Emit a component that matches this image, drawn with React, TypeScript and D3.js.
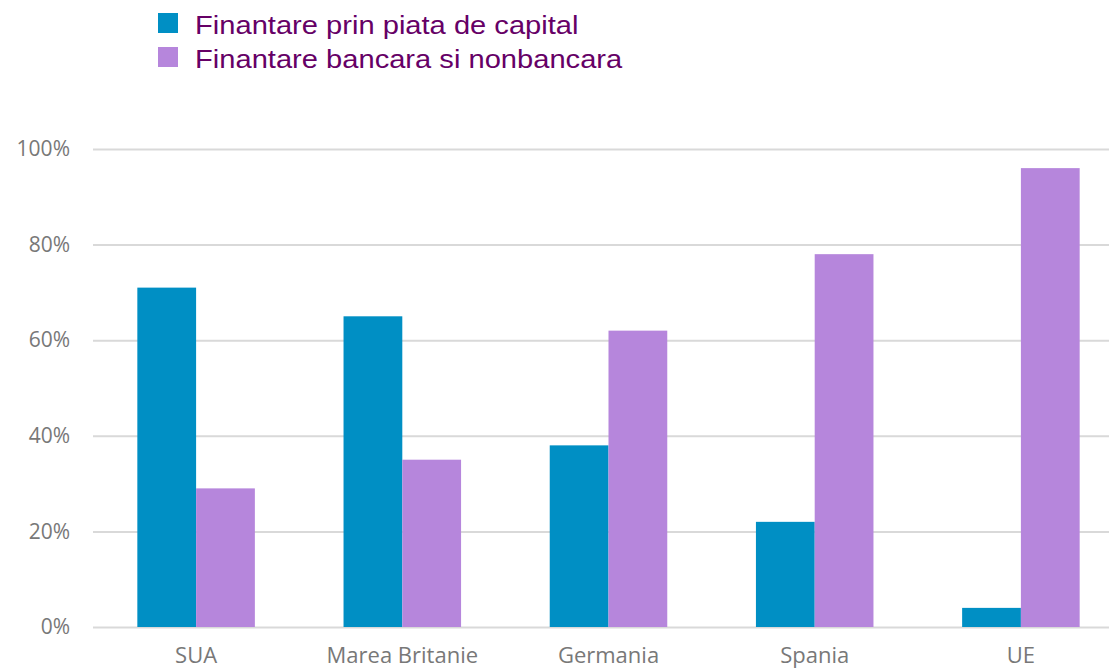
import React, { useRef, useEffect } from "react";
import { select, scaleBand, scaleLinear, axisLeft, axisBottom } from "d3";

const categories = ["SUA", "Marea Britanie", "Germania", "Spania", "UE"];
const seriesNames = [
  "Finantare prin piata de capital",
  "Finantare bancara si nonbancara",
];
const capital = [71, 65, 38, 22, 4];
const bancara = [29, 35, 62, 78, 96];
const yTicks = [0, 20, 40, 60, 80, 100];
const colors = ["#008fc4", "#b686dc"];

const width = 1109;
const height = 670;

const App: React.FC = () => {
  const svgRef = useRef<SVGSVGElement>(null);

  useEffect(() => {
    const svg = select(svgRef.current);
    svg.selectAll("*").remove();

    const plotLeft = 93;
    const plotRight = 1124;
    const plotTop = 149;
    const plotBottom = 627;

    const x = scaleBand<string>()
      .domain(categories)
      .range([plotLeft, plotRight])
      .paddingInner(0.43)
      .paddingOuter(0.215);
    const sub = scaleBand<string>()
      .domain(["0", "1"])
      .range([0, x.bandwidth()]);
    const y = scaleLinear().domain([0, 100]).range([plotBottom, plotTop]);

    // grid + y labels
    const yAxis = axisLeft(y)
      .tickValues(yTicks)
      .tickSize(-(width - plotLeft))
      .tickPadding(23)
      .tickFormat((d) => `${d}%`);
    const gy = svg
      .append("g")
      .attr("transform", `translate(${plotLeft},0)`)
      .call(yAxis);
    gy.select(".domain").remove();
    gy.selectAll("line").attr("stroke", "#d9d9d9").attr("stroke-width", 2);
    gy.selectAll("text")
      .attr("fill", "#787878")
      .style("font-family", "'Open Sans', sans-serif")
      .style("font-size", "21px");

    // bars
    const data = [capital, bancara];
    data.forEach((vals, si) => {
      svg
        .append("g")
        .selectAll("rect")
        .data(vals)
        .join("rect")
        .attr("x", (_, i) => x(categories[i])! + sub(String(si))!)
        .attr("y", (d) => y(d))
        .attr("width", sub.bandwidth())
        .attr("height", (d) => plotBottom - y(d))
        .attr("fill", colors[si]);
    });

    // x labels
    const gx = svg
      .append("g")
      .attr("transform", `translate(0,${plotBottom})`)
      .call(axisBottom(x).tickSize(0).tickPadding(20));
    gx.select(".domain").remove();
    gx.selectAll("text")
      .attr("fill", "#787878")
      .style("font-family", "'Open Sans', sans-serif")
      .style("font-size", "22px");

    // legend
    const legend = svg.append("g").attr("transform", "translate(158,0)");
    seriesNames.forEach((name, i) => {
      const g = legend.append("g").attr("transform", `translate(0,${13 + i * 34})`);
      g.append("rect").attr("width", 20).attr("height", 20).attr("fill", colors[i]);
      g.append("text")
        .attr("transform", "translate(37,21) scale(1.12,1)")
        .attr("fill", "#660066")
        .style("font-family", "'Liberation Sans', Arial, sans-serif")
        .style("font-size", "26px")
        .text(name);
    });
  }, []);

  return (
    <svg
      ref={svgRef}
      width={width}
      height={height}
      style={{ position: "absolute", left: 0, top: 0, background: "#fff" }}
    ></svg>
  );
};

export default App;
